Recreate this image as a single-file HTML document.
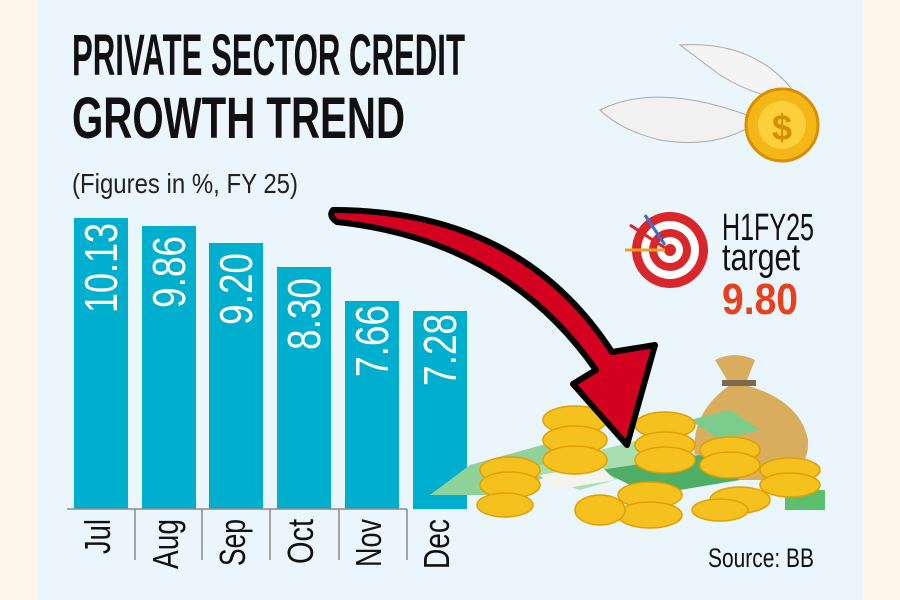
<!DOCTYPE html>
<html><head><meta charset="utf-8"><style>
html,body{margin:0;padding:0;background:#fdf4ea;}
svg{display:block}
text{font-family:"Liberation Sans",sans-serif}
</style></head><body>
<svg width="900" height="600" viewBox="0 0 900 600" xmlns="http://www.w3.org/2000/svg">
<rect x="0" y="0" width="900" height="600" fill="#fdf4ea"/>
<rect x="37" y="0" width="826" height="600" fill="#ebf5fc"/>
<text x="72" y="75" font-size="58" font-weight="bold" fill="#111" textLength="393" lengthAdjust="spacingAndGlyphs">PRIVATE SECTOR CREDIT</text>
<text x="72" y="138" font-size="58" font-weight="bold" fill="#111" textLength="333" lengthAdjust="spacingAndGlyphs">GROWTH TREND</text>
<text x="72" y="193" font-size="28" fill="#222" textLength="226" lengthAdjust="spacingAndGlyphs">(Figures in %, FY 25)</text>
<g fill="#00aecd">
<rect x="74" y="218" width="54" height="291"/>
<rect x="142" y="226" width="54" height="283"/>
<rect x="209" y="243" width="54" height="266"/>
<rect x="277" y="267" width="54" height="242"/>
<rect x="345" y="301" width="54" height="208"/>
<rect x="413" y="311" width="54" height="198"/>
</g>
<g fill="#fff" font-size="46">
<text transform="translate(117,313) rotate(-90)" textLength="90" lengthAdjust="spacingAndGlyphs">10.13</text>
<text transform="translate(185,308) rotate(-90)" textLength="72" lengthAdjust="spacingAndGlyphs">9.86</text>
<text transform="translate(252,325) rotate(-90)" textLength="72" lengthAdjust="spacingAndGlyphs">9.20</text>
<text transform="translate(320,350) rotate(-90)" textLength="72" lengthAdjust="spacingAndGlyphs">8.30</text>
<text transform="translate(388,377) rotate(-90)" textLength="72" lengthAdjust="spacingAndGlyphs">7.66</text>
<text transform="translate(456,386) rotate(-90)" textLength="72" lengthAdjust="spacingAndGlyphs">7.28</text>
</g>
<g stroke="#8a8a8a" stroke-width="1.5">
<line x1="67" y1="509" x2="407" y2="509"/>
<line x1="135" y1="509" x2="135" y2="560"/>
<line x1="202" y1="509" x2="202" y2="560"/>
<line x1="270" y1="509" x2="270" y2="560"/>
<line x1="339" y1="509" x2="339" y2="560"/>
<line x1="407" y1="509" x2="407" y2="560"/>
</g>
<g fill="#111" font-size="36">
<text transform="translate(110,519) rotate(-90)" text-anchor="end" textLength="35" lengthAdjust="spacingAndGlyphs">Jul</text>
<text transform="translate(178,519) rotate(-90)" text-anchor="end" textLength="50" lengthAdjust="spacingAndGlyphs">Aug</text>
<text transform="translate(245,519) rotate(-90)" text-anchor="end" textLength="47" lengthAdjust="spacingAndGlyphs">Sep</text>
<text transform="translate(313,519) rotate(-90)" text-anchor="end" textLength="45" lengthAdjust="spacingAndGlyphs">Oct</text>
<text transform="translate(381,519) rotate(-90)" text-anchor="end" textLength="48" lengthAdjust="spacingAndGlyphs">Nov</text>
<text transform="translate(449,519) rotate(-90)" text-anchor="end" textLength="50" lengthAdjust="spacingAndGlyphs">Dec</text>
</g>
<path d="M715,360 Q735,350 755,360 L745,385 Q800,400 808,440 Q810,480 760,480 L700,480 Q680,420 730,385 Z" fill="#d8ad5e"/>
<rect x="722" y="380" width="34" height="6" fill="#7b6a50"/>
<g>
<polygon points="430,495 470,465 560,440 590,460 500,495" fill="#8fd39b"/>
<polygon points="520,470 640,440 700,455 580,490" fill="#a8dfb0"/>
<polygon points="600,470 700,455 740,480 650,495" fill="#4fae66"/>
<polygon points="690,420 730,410 760,430 720,440" fill="#7ccc8c"/>
<rect x="785" y="490" width="40" height="20" fill="#5bbf6b"/>
<polygon points="540,475 600,465 615,480 555,490" fill="#f4f4ee"/>
</g>
<g fill="#f4c11f" stroke="#e0a000" stroke-width="1.5">
<ellipse cx="575" cy="420" rx="32" ry="14"/><ellipse cx="575" cy="440" rx="32" ry="14"/><ellipse cx="575" cy="460" rx="32" ry="14"/>
<ellipse cx="665" cy="425" rx="30" ry="13"/><ellipse cx="665" cy="445" rx="30" ry="13"/><ellipse cx="665" cy="460" rx="30" ry="13"/>
<ellipse cx="510" cy="470" rx="30" ry="13"/><ellipse cx="510" cy="485" rx="30" ry="13"/>
<ellipse cx="505" cy="505" rx="28" ry="12"/>
<ellipse cx="650" cy="495" rx="32" ry="13"/><ellipse cx="650" cy="515" rx="32" ry="13"/>
<ellipse cx="600" cy="510" rx="25" ry="15"/>
<ellipse cx="730" cy="450" rx="30" ry="13"/><ellipse cx="730" cy="465" rx="30" ry="13"/>
<ellipse cx="790" cy="470" rx="30" ry="12"/><ellipse cx="790" cy="485" rx="30" ry="12"/>
<ellipse cx="740" cy="500" rx="30" ry="13"/><ellipse cx="720" cy="510" rx="28" ry="11"/>
</g>
<path d="M333,210 Q520,210 612,352 L655,345 L627,445 L573,384 L596,370 Q505,240 337,222 Q328,216 333,210 Z" fill="#d4001f" stroke="#000" stroke-width="6" stroke-linejoin="round"/>
<path d="M600,110 Q660,80 760,120 Q720,150 660,140 Q620,130 600,110 Z" fill="#f1f1f1" stroke="#aaa"/>
<path d="M680,45 Q760,40 800,100 Q760,100 720,75 Z" fill="#f4f4f4" stroke="#aaa"/>
<circle cx="782" cy="125" r="36" fill="#f5b617" stroke="#d98e00" stroke-width="3"/>
<circle cx="782" cy="125" r="24" fill="#fbd03a"/>
<text x="772" y="140" font-size="36" font-weight="bold" fill="#d98e00">$</text>
<circle cx="670" cy="250" r="38" fill="#d9262b"/>
<circle cx="670" cy="250" r="29" fill="#fff"/>
<circle cx="670" cy="250" r="21" fill="#d9262b"/>
<circle cx="670" cy="250" r="13" fill="#fff"/>
<circle cx="670" cy="250" r="6" fill="#d9262b"/>
<g stroke-width="3"><line x1="645" y1="215" x2="665" y2="245" stroke="#3a6fd0"/><line x1="630" y1="225" x2="665" y2="248" stroke="#d9262b"/><line x1="625" y1="250" x2="665" y2="250" stroke="#f0a020"/></g>
<text x="722" y="240" font-size="38" fill="#111" textLength="92" lengthAdjust="spacingAndGlyphs">H1FY25</text>
<text x="722" y="270" font-size="38" fill="#111" textLength="78" lengthAdjust="spacingAndGlyphs">target</text>
<text x="722" y="314" font-size="44" font-weight="bold" fill="#e8401c" textLength="76" lengthAdjust="spacingAndGlyphs">9.80</text>
<text x="708" y="567" font-size="27" fill="#111" textLength="106" lengthAdjust="spacingAndGlyphs">Source: BB</text>
</svg>
</body></html>
